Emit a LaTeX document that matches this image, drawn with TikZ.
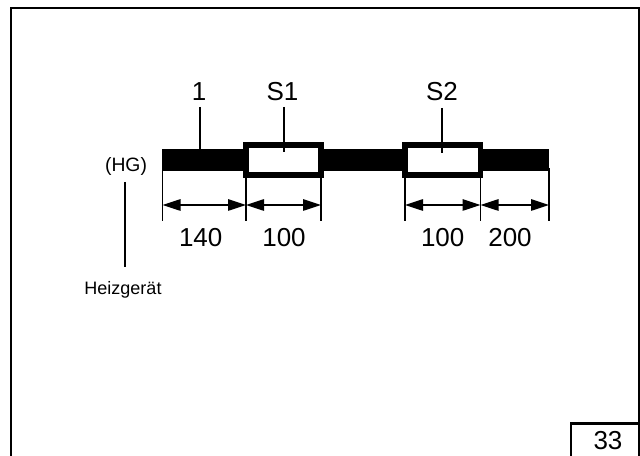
\documentclass[tikz,border=0pt]{standalone}
\usepackage{fontspec}
\setmainfont{Liberation Sans}
\usetikzlibrary{arrows.meta}
\tikzset{
  px/.style={x=0.75pt,y=-0.75pt},
  frameline/.style={line width=1.6pt,line cap=rect},
  pipe/.style={line width=16pt},
  sleeve/.style={line width=4.2pt,fill=white},
  leader/.style={line width=1.4pt},
  tick/.style={line width=1.2pt},
  dimline/.style={line width=1.3pt,{Triangle[length=13.5pt,width=8.5pt]}-{Triangle[length=13.5pt,width=8.5pt]},shorten <=0pt,shorten >=0pt},
  biglabel/.style={inner sep=0pt,font=\fontsize{19.5}{22}\selectfont},
  smalllabel/.style={inner sep=0pt,font=\fontsize{13.5}{16}\selectfont}
}
\begin{document}
\begin{tikzpicture}[px]
\useasboundingbox (0,0) rectangle (640,456);
\fill[white] (0,0) rectangle (640,456);
% frame
\draw[frameline] (11,460) -- (11,8) -- (639,8) -- (639,460);
\draw[frameline] (571,460) -- (571,423.5) -- (639,423.5);
\node[biglabel] (pg) at (608,441) {33};
% coordinates
\foreach \n/\x in {a/162.5,b/246,c/321,d/405,e/480.5,f/549}{
  \coordinate (\n0) at (\x,168);
  \coordinate (\n1) at (\x,205);
  \coordinate (\n2) at (\x,221);
}
% pipe
\coordinate (pl) at (162,160);
\coordinate (pr) at (549,160);
\draw[pipe] (pl) -- (pr);
% sleeves
\node[draw,sleeve,minimum width=56.2pt,minimum height=22.5pt,inner sep=0pt] (s1) at (283.5,160) {};
\node[draw,sleeve,minimum width=56.5pt,minimum height=22.5pt,inner sep=0pt] (s2) at (442.7,160) {};
% labels
\node[biglabel] (l1) at (199,92) {1};
\node[biglabel] (ls1) at (282.5,92) {S1};
\node[biglabel] (ls2) at (442,92) {S2};
\coordinate (t1) at (200,107); \coordinate (u1) at (200,151);
\coordinate (t2) at (283.7,107); \coordinate (u2) at (283.7,152);
\coordinate (t3) at (442,108); \coordinate (u3) at (442,153);
\draw[leader] (t1) -- (u1);
\draw[leader] (t2) -- (u2);
\draw[leader] (t3) -- (u3);
% ticks
\foreach \n in {a,b,c,d,e,f}{\draw[tick] (\n0) -- (\n2);}
% dims
\draw[dimline] (a1) -- (b1);
\draw[dimline] (b1) -- (c1);
\draw[dimline] (d1) -- (e1);
\draw[dimline] (e1) -- (f1);
\node[biglabel] (d140) at (200.7,238) {140};
\node[biglabel] (d100a) at (284,238) {100};
\node[biglabel] (d100b) at (442.7,238) {100};
\node[biglabel] (d200) at (510,238) {200};
% HG
\node[smalllabel,font=\fontsize{14.5}{16}\selectfont] (hg) at (126,166) {(HG)};
\coordinate (h1) at (125,182); \coordinate (h2) at (125,267);
\draw[leader] (h1) -- (h2);
\node[smalllabel] (hz) at (123,290) {Heizgerät};
\end{tikzpicture}
\end{document}
